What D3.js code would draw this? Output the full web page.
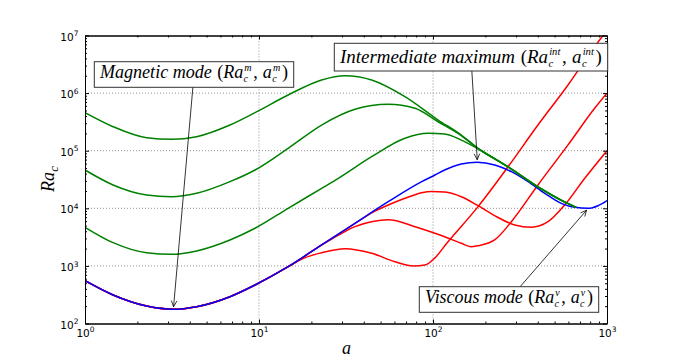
<!DOCTYPE html>
<html>
<head>
<meta charset="utf-8">
<script src="https://cdn.jsdelivr.net/npm/d3@7"></script>
<style>
  body { margin: 0; background: #fff; }
  svg { display: block; }
  .math { font-family: "Liberation Serif", serif; fill: #000; }
</style>
</head>
<body>
<script>
// wavenumber a and critical Rayleigh number Ra_c

// envelope (blue)
const blueA  = [1, 1.45, 2.26, 3.22, 4.38, 6.81, 9.49, 14.7, 22.9, 35.6, 55.3, 86.1, 102.6, 116.7, 145.4, 179.8, 226.5, 282, 352, 439, 546, 652, 780, 888, 1000];
const blueRa = [553, 313, 201, 177, 196, 292, 466, 968, 2310, 5500, 13000, 29000, 37800, 46200, 58700, 63000, 56500, 43200, 29000, 18200, 12200, 10400, 10000, 11100, 13600];

// green branches
const green1A  = [1, 1.45, 2.26, 3.15, 4.38, 6.81, 9.49, 14.7, 22.9, 31.2, 44.4, 69, 107, 145.4, 181.5, 270, 401, 546, 665];
const green1Ra = [457000, 261000, 168000, 158000, 175000, 279000, 457000, 927000, 1690000, 2000000, 1690000, 867000, 341000, 187000, 110000, 52700, 23700, 13900, 10400];
const green2A  = [1, 1.45, 2.26, 3.15, 4.38, 6.81, 9.49, 14.7, 22.9, 35.6, 55.3, 78.8, 107, 145.4, 181.5, 270, 401, 546, 665];
const green2Ra = [46200, 25400, 17000, 15900, 18200, 29000, 46200, 110000, 279000, 523000, 640000, 545000, 318000, 183000, 109000, 52300, 23500, 13800, 10400];
const green3A  = [1, 1.45, 2.26, 3.15, 4.38, 6.81, 9.49, 14.7, 22.9, 28.6, 44.4, 69, 93.6, 116.7, 145.4, 181.5, 270, 401, 546, 665];
const green3Ra = [4680, 2530, 1690, 1590, 1820, 2820, 4500, 10000, 22200, 33200, 78700, 164000, 200000, 195000, 153000, 108000, 52000, 23400, 13700, 10400];

// red branches
const red1A  = [1, 1.45, 2.26, 3.22, 4.38, 6.81, 9.49, 14.7, 18, 22.9, 31.2, 44.4, 60.5, 77.1, 90, 102.6, 120, 181.5, 270, 401, 597, 849, 1000];
const red1Ra = [553, 313, 201, 177, 196, 292, 466, 960, 1350, 1690, 1990, 1660, 1180, 996, 1040, 1380, 2470, 10700, 52700, 279000, 1380000, 6400000, 12300000];
const red2A  = [1, 1.45, 2.26, 3.22, 4.38, 6.81, 9.49, 14.7, 22.9, 29, 35.6, 45, 55.3, 78.8, 109.7, 145.4, 165, 181.5, 226, 282, 401, 597, 849, 1000];
const red2Ra = [553, 313, 201, 177, 196, 292, 466, 968, 2300, 3500, 4800, 5900, 6300, 4800, 3440, 2470, 2150, 2240, 2820, 5850, 25400, 126000, 545000, 1000000];
const red3A  = [1, 1.45, 2.26, 3.22, 4.38, 6.81, 9.49, 14.7, 22.9, 35.6, 45, 55.3, 69, 86.1, 98.3, 116.7, 145.4, 181.5, 226, 295, 367, 458, 571, 745, 1000];
const red3Ra = [553, 313, 201, 177, 196, 292, 466, 968, 2310, 5450, 8500, 11400, 14900, 18700, 19600, 19100, 15900, 11100, 7450, 5130, 4680, 5850, 11400, 33200, 100000];

// axis ticks
const xTicks = [1, 10, 100, 1000];
const xExp = ['0', '1', '2', '3'];
const yTicks = [1e2, 1e3, 1e4, 1e5, 1e6, 1e7];
const yExp = ['2', '3', '4', '5', '6', '7'];

// annotated points (a, Ra)
const magPoint = [3.22, 177];
const intPoint = [180, 63000];
const visPoint = [780, 10000];

const width = 675, height = 360;
const plotL = 85, plotR = 607, plotT = 35.5, plotB = 323.5;

const svg = d3.select('body').append('svg')
  .attr('width', width)
  .attr('height', height);

svg.append('rect').attr('width', width).attr('height', height).attr('fill', '#fff');

const x = d3.scaleLog().domain([1, 1000]).range([plotL, plotR]);
const y = d3.scaleLog().domain([1e2, 1e7]).range([plotB, plotT]);

function minors(lo, hi) {
  const out = [];
  for (let d = lo; d < hi; d *= 10) {
    for (let k = 2; k <= 9; k++) out.push(k * d);
  }
  return out;
}
const xMinor = minors(1, 1000);
const yMinor = minors(1e2, 1e7);

// dotted grid at the major ticks
const grid = svg.append('g')
  .attr('stroke', '#777')
  .attr('stroke-width', 0.8)
  .attr('stroke-dasharray', '1,2');
grid.selectAll('.gx').data(xTicks.slice(1, -1)).join('line')
  .attr('x1', d => x(d)).attr('x2', d => x(d))
  .attr('y1', plotT).attr('y2', plotB);
grid.selectAll('.gy').data(yTicks.slice(1, -1)).join('line')
  .attr('y1', d => y(d)).attr('y2', d => y(d))
  .attr('x1', plotL).attr('x2', plotR);

// curves
svg.append('clipPath').attr('id', 'plotclip')
  .append('rect')
  .attr('x', plotL).attr('y', plotT)
  .attr('width', plotR - plotL).attr('height', plotB - plotT);

const line = d3.line()
  .x(d => x(d[0]))
  .y(d => y(d[1]))
  .curve(d3.curveMonotoneX);

const curves = [
  { a: red1A, ra: red1Ra, color: '#ff0000' },
  { a: red2A, ra: red2Ra, color: '#ff0000' },
  { a: red3A, ra: red3Ra, color: '#ff0000' },
  { a: blueA, ra: blueRa, color: '#0000ff' },
  { a: green1A, ra: green1Ra, color: '#008000' },
  { a: green2A, ra: green2Ra, color: '#008000' },
  { a: green3A, ra: green3Ra, color: '#008000' }
];

svg.append('g')
  .attr('clip-path', 'url(#plotclip)')
  .selectAll('path')
  .data(curves)
  .join('path')
  .attr('d', c => line(d3.zip(c.a, c.ra)))
  .attr('fill', 'none')
  .attr('stroke', c => c.color)
  .attr('stroke-width', 1.5);

// axes, ticks pointing inwards on all four sides
function styleAxis(g) {
  g.select('.domain').attr('stroke', '#000');
  g.selectAll('.tick line').attr('stroke', '#000');
  g.attr('font-family', '"DejaVu Sans", sans-serif').attr('font-size', 10.5);
}

svg.append('g').attr('transform', `translate(0,${plotB})`)
  .call(d3.axisBottom(x).tickValues(xMinor).tickSize(-2).tickSizeOuter(0).tickFormat(''))
  .call(styleAxis);
svg.append('g').attr('transform', `translate(0,${plotT})`)
  .call(d3.axisTop(x).tickValues(xMinor).tickSize(-2).tickSizeOuter(0).tickFormat(''))
  .call(styleAxis);
svg.append('g').attr('transform', `translate(${plotL},0)`)
  .call(d3.axisLeft(y).tickValues(yMinor).tickSize(-2).tickSizeOuter(0).tickFormat(''))
  .call(styleAxis);
svg.append('g').attr('transform', `translate(${plotR},0)`)
  .call(d3.axisRight(y).tickValues(yMinor).tickSize(-2).tickSizeOuter(0).tickFormat(''))
  .call(styleAxis);

svg.append('g').attr('transform', `translate(0,${plotT})`)
  .call(d3.axisTop(x).tickValues(xTicks).tickSize(-4).tickSizeOuter(0).tickFormat(''))
  .call(styleAxis);
svg.append('g').attr('transform', `translate(${plotR},0)`)
  .call(d3.axisRight(y).tickValues(yTicks).tickSize(-4).tickSizeOuter(0).tickFormat(''))
  .call(styleAxis);

svg.append('g').attr('transform', `translate(0,${plotB})`)
  .call(d3.axisBottom(x).tickValues(xTicks).tickSize(-4).tickSizeOuter(0).tickFormat(() => '10'))
  .call(styleAxis)
  .call(g => g.selectAll('.tick text')
    .attr('y', 13.2).attr('dy', null)
    .each(function(d, i) {
      d3.select(this).append('tspan')
        .attr('dy', -4.5).attr('font-size', 7.5)
        .text(xExp[i]);
    }));

svg.append('g').attr('transform', `translate(${plotL},0)`)
  .call(d3.axisLeft(y).tickValues(yTicks).tickSize(-4).tickSizeOuter(0).tickFormat(() => '10'))
  .call(styleAxis)
  .call(g => g.selectAll('.tick text')
    .attr('x', -6.5).attr('y', 4.6).attr('dy', null)
    .each(function(d, i) {
      d3.select(this).append('tspan')
        .attr('dy', -4.5).attr('font-size', 7.5)
        .text(yExp[i]);
    }));

// math-like text: one <text>, tspans for words and stacked sub/superscripts
function mathText(parent, x0, y0, parts, size) {
  const text = parent.append('text').attr('class', 'math');
  let cx = x0;
  parts.forEach(p => {
    if (p.gap) { cx += p.gap * size; return; }
    if (p.t) {
      const t = text.append('tspan')
        .attr('x', cx).attr('y', y0)
        .attr('font-size', size)
        .attr('font-style', p.up ? 'normal' : 'italic')
        .text(p.t);
      cx += t.node().getComputedTextLength();
      return;
    }
    const small = size * (p.scale || 0.56);
    let w = 0;
    if (p.sup) {
      const t = text.append('tspan')
        .attr('x', cx + 0.06 * size).attr('y', y0 - 0.42 * size)
        .attr('font-size', small).attr('font-style', 'italic')
        .text(p.sup);
      w = Math.max(w, t.node().getComputedTextLength());
    }
    if (p.sub) {
      const t = text.append('tspan')
        .attr('x', cx + 0.02 * size).attr('y', y0 + 0.23 * size)
        .attr('font-size', small).attr('font-style', 'italic')
        .text(p.sub);
      w = Math.max(w, t.node().getComputedTextLength());
    }
    cx += w + 0.1 * size;
  });
  return { text, width: cx - x0 };
}

// fit a label to the width it has in the figure
function fittedLabel(g, x0, y0, parts, targetWidth) {
  const probe = mathText(g, x0, y0, parts, 17);
  probe.text.remove();
  mathText(g, x0, y0, parts, 17 * targetWidth / probe.width);
}

function pair(word, sup) {
  return [
    { t: word }, { gap: 0.3 }, { t: '(', up: 1 }, { t: 'Ra' }, { sub: 'c', sup: sup },
    { gap: 0.05 }, { t: ',', up: 1 }, { gap: 0.28 }, { t: 'a' }, { sub: 'c', sup: sup },
    { gap: 0.05 }, { t: ')', up: 1 }
  ];
}

const notes = [
  { parts: pair('Magnetic mode', 'm'), tx: 100, base: 78.3, w: 188, up: 16.6, down: 9, pt: magPoint },
  { parts: pair('Intermediate maximum', 'int'), tx: 340, base: 62.7, w: 262, up: 19.4, down: 8.3, pt: intPoint },
  { parts: pair('Viscous mode', 'v'), tx: 425, base: 303.3, w: 168, up: 16.6, down: 9, pt: visPoint }
];

const ann = svg.append('g');
notes.forEach(n => {
  const bx0 = n.tx - 5.7, bx1 = n.tx + n.w + 5.7;
  const by0 = n.base - n.up, by1 = n.base + n.down;
  const cx = (bx0 + bx1) / 2, cy = (by0 + by1) / 2;
  const px = x(n.pt[0]), py = y(n.pt[1]);
  const len = Math.hypot(px - cx, py - cy);
  const ux = (px - cx) / len, uy = (py - cy) / len;
  const tipX = px - ux * 2.5, tipY = py - uy * 2.5;

  ann.append('line')
    .attr('x1', cx).attr('y1', cy).attr('x2', tipX).attr('y2', tipY)
    .attr('stroke', '#000').attr('stroke-width', 0.8);
  const hl = 6, hw = 2.8;
  ann.append('path')
    .attr('d', `M${tipX - ux * hl - uy * hw},${tipY - uy * hl + ux * hw}L${tipX},${tipY}L${tipX - ux * hl + uy * hw},${tipY - uy * hl - ux * hw}`)
    .attr('fill', 'none').attr('stroke', '#000').attr('stroke-width', 0.8);

  ann.append('rect')
    .attr('x', bx0).attr('y', by0)
    .attr('width', bx1 - bx0).attr('height', by1 - by0)
    .attr('fill', '#fff').attr('stroke', '#333').attr('stroke-width', 1);
  fittedLabel(ann.append('g'), n.tx, n.base, n.parts, n.w);
});

// axis labels
mathText(svg, 342, 354, [{ t: 'a' }], 18);
mathText(svg.append('g').attr('transform', 'translate(53.5,192) rotate(-90)'),
  0, 0, [{ t: 'Ra' }, { sub: 'c', scale: 0.7 }], 18);
</script>
</body>
</html>
